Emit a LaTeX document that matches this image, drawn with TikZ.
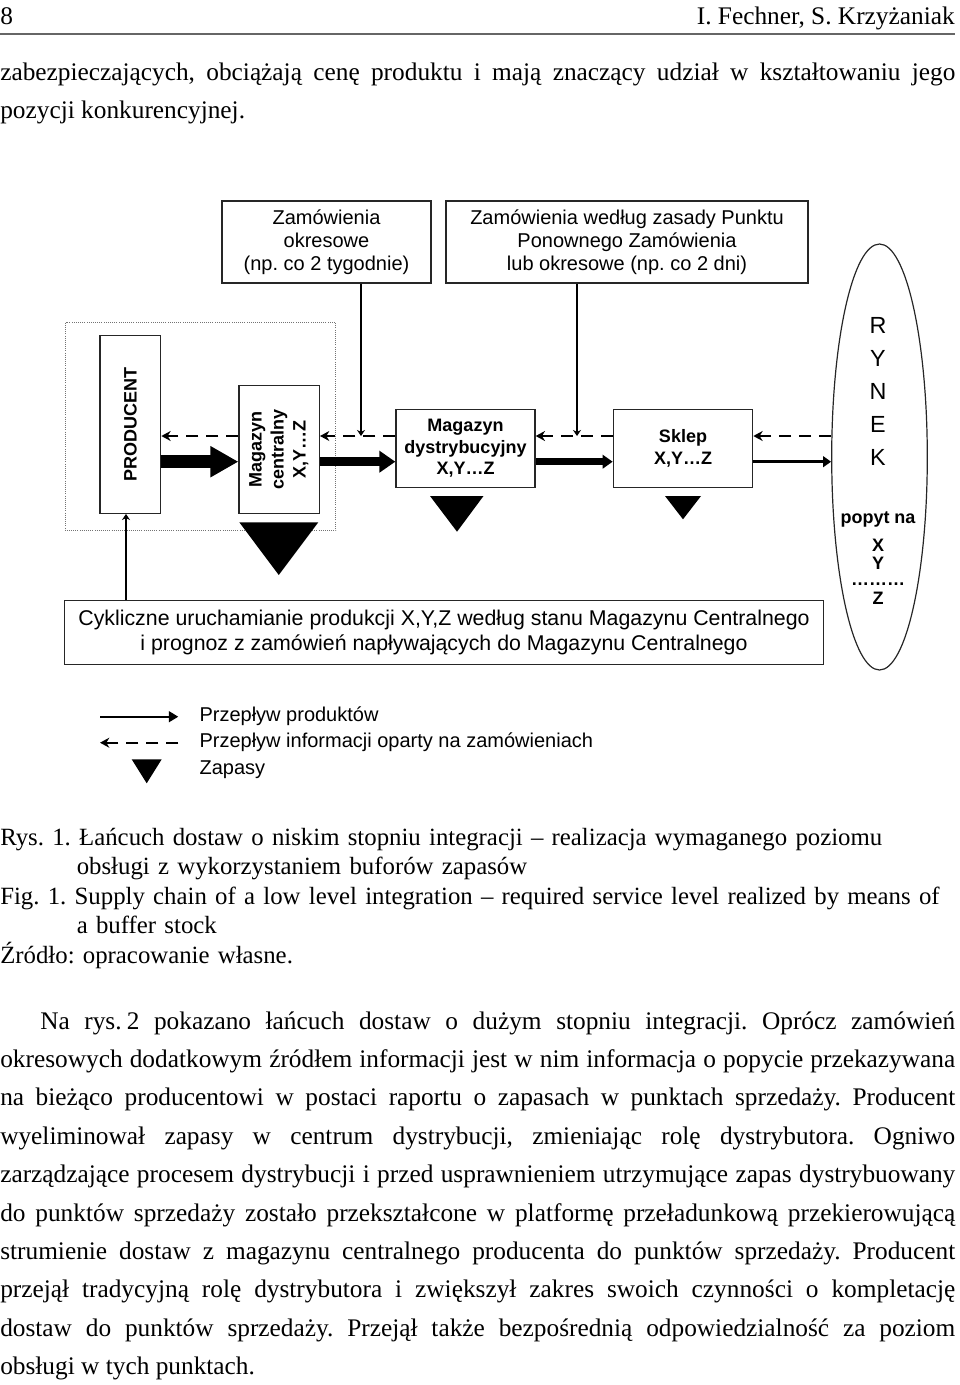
\documentclass[tikz,border=0pt]{standalone}
\usepackage{fontspec}
\setmainfont{Liberation Serif}
\setsansfont{Liberation Sans}
\usepackage{graphicx}
\usetikzlibrary{arrows.meta,shapes.geometric}
\frenchspacing

\tikzset{
  box/.style={draw=black!85, line width=1pt, inner sep=0pt, align=center,
    font=\sffamily\fontsize{15}{17.25}\selectfont},
  bbox/.style={box, font=\sffamily\bfseries\fontsize{13.5}{16.5}\selectfont},
  info/.style={draw=black, line width=1.4pt, dash pattern=on 9pt off 6pt,
    -{Stealth[length=7pt,width=7.5pt]}},
  order/.style={line width=0.8pt, -{Stealth[length=4.5pt,width=6pt]}},
  lgtxt/.style={anchor=west, inner sep=0pt, font=\sffamily\fontsize{15}{17}\selectfont},
  para/.style={inner sep=0pt, text width=716.25pt, align=justify,
    font=\fontsize{19}{28.8}\selectfont},
  captxt/.style={inner sep=0pt, text width=716.25pt, align=left,
    font=\fontsize{18.6}{22.1}\selectfont},
  mkt/.style={font=\sffamily\bfseries\fontsize{13.5}{15}\selectfont},
}

\begin{document}
\begin{tikzpicture}[x=0.75pt,y=0.75pt,yscale=-1,xscale=1]
\useasboundingbox (0,0) rectangle (960,1385);

% Page head
\node[inner sep=0pt, anchor=base west, font=\fontsize{19}{22}\selectfont] (pageNo) at (0,24) {8};
\node[inner sep=0pt, anchor=base east, font=\fontsize{19}{22}\selectfont] (authors) at (955,24) {I. Fechner, S. Krzyżaniak};
\draw[black!60, line width=1.5pt] (0,33.5) -- (955,33.5);

% Text Node
\node[para, anchor=base west] (parTop) at (0,80) {\hyphenpenalty=10000 zabezpieczających, obciążają cenę produktu i mają znaczący udział w kształtowaniu jego\linebreak pozycji konkurencyjnej.};

% Order boxes
\node[box, minimum width=156.75pt, minimum height=61.5pt] (zamOkr) at (326.5,242) {Zamówienia\\okresowe\\(np. co 2 tygodnie)};
\node[box, minimum width=271.5pt, minimum height=61.5pt] (zamPPZ) at (627,242) {Zamówienia według zasady Punktu\\Ponownego Zamówienia\\lub okresowe (np. co 2 dni)};

%Shape: Dotted group
\draw[black!55, line width=0.6pt, densely dotted] (65.7,322.7) rectangle (335.7,530.7);

% Chain
\node[bbox, minimum width=45.5pt, minimum height=133.2pt] (prod) at (130.35,424.5) {\rotatebox{90}{PRODUCENT}};
\node[bbox, minimum width=60.2pt, minimum height=96pt] (magC) at (279.2,449.3) {\rotatebox{90}{\begin{tabular}{@{}c@{}}Magazyn\\centralny\\X,Y…Z\end{tabular}}};
\node[bbox, minimum width=104.25pt, minimum height=58.8pt, font=\sffamily\bfseries\fontsize{13.5}{16}\selectfont] (magD) at (465.5,448.5) {Magazyn\\dystrybucyjny\\X,Y…Z};
\node[bbox, minimum width=104.5pt, minimum height=58.8pt, font=\sffamily\bfseries\fontsize{13.5}{16}\selectfont] (sklep) at (683,448.5) {Sklep\\X,Y…Z};
\node[draw=black!85, line width=0.9pt, ellipse, inner sep=0pt, minimum width=71.7pt, minimum height=319.5pt] (rynek) at (879.5,457) {};
\node[align=center, font=\sffamily\fontsize{17.5}{24.75}\selectfont] (rynekTxt) at (878,391.5) {R\\Y\\N\\E\\K};
\node[mkt] (popyt) at (878,519) {popyt na};
\node[mkt] (pX) at (878,545) {X};
\node[mkt] (pY) at (878,563) {Y};
\node[mkt] (pDots) at (878,584) {………};
\node[mkt] (pZ) at (878,598) {Z};

\node[box, minimum width=569.25pt, minimum height=47.7pt, font=\sffamily\fontsize{16}{18.75}\selectfont] (cykl) at (444,632.5) {Cykliczne uruchamianie produkcji X,Y,Z według stanu Magazynu Centralnego\\i prognoz z zamówień napływających do Magazynu Centralnego};

% Information flow
\coordinate (info) at (0,436);
\coordinate (flow) at (0,461.7);
\draw[info] (magC.west |- info) -- (prod.east |- info);
\draw[info] (magD.west |- info) -- (magC.east |- info);
\draw[info] (sklep.west |- info) -- (magD.east |- info);
\draw[info] (rynek.west |- info) -- (sklep.east |- info);

% Orders
\coordinate (okrIn) at (361,436);
\coordinate (ppzIn) at (577,436);
\coordinate (plan) at (126,0);
\draw[order] (zamOkr.south -| okrIn) -- (okrIn);
\draw[order] (zamPPZ.south -| ppzIn) -- (ppzIn);
\draw[order] (cykl.north -| plan) -- (prod.south -| plan);

% Product flow
\draw[line width=9.5pt, -{Triangle[length=21pt,width=22pt]}] (prod.east |- flow) -- (magC.west |- flow);
\draw[line width=7pt, -{Triangle[length=12pt,width=15.75pt]}] (magC.east |- flow) -- (magD.west |- flow);
\draw[line width=5pt, -{Triangle[length=7.5pt,width=10pt]}] (magD.east |- flow) -- (sklep.west |- flow);
\draw[line width=2.2pt, -{Triangle[length=6pt,width=8pt]}] (sklep.east |- flow) -- (rynek.west |- flow);

% Stocks
\fill (239.3,522.3) -- (318.3,522.3) -- (278.8,575) -- cycle;
\fill (430,496) -- (483.5,496) -- (457,531.7) -- cycle;
\fill (665,496) -- (701,496) -- (683,519.3) -- cycle;

% Legend
\coordinate (lgA) at (100,716.7);
\coordinate (lgB) at (178.3,716.7);
\coordinate (lgC) at (178.3,742.7);
\coordinate (lgD) at (100,742.7);
\draw[line width=1.5pt, -{Triangle[length=7pt,width=8pt]}] (lgA) -- (lgB);
\draw[info] (lgC) -- (lgD);
\fill (131.7,759.3) -- (161.7,759.3) -- (146.7,783.3) -- cycle;
\node[lgtxt] (lgProd) at (199.3,716.7) {Przepływ produktów};
\node[lgtxt] (lgInfo) at (199.3,742.7) {Przepływ informacji oparty na zamówieniach};
\node[lgtxt] (lgStock) at (199.3,770) {Zapasy};

% Captions
\node[captxt, anchor=base west] (capPL) at (0,845) {Rys. 1. Łańcuch dostaw o niskim stopniu integracji -- realizacja wymaganego poziomu\\\hspace*{57.4pt}obsługi z wykorzystaniem buforów zapasów};
\node[captxt, anchor=base west] (capEN) at (0,904) {Fig. 1. Supply chain of a low level integration -- required service level realized by means of\\\hspace*{57.4pt}a buffer stock};
\node[captxt, anchor=base west] (capSrc) at (0,963) {Źródło: opracowanie własne.};

% Text Node
\node[para, anchor=base west] (parBody) at (0,1029) {\hyphenpenalty=10000 \hspace*{30pt}Na rys.\hspace{0.2em}2 pokazano łańcuch dostaw o dużym stopniu integracji. Oprócz zamówień\linebreak
okresowych dodatkowym źródłem informacji jest w nim informacja o popycie przekazywana\linebreak
na bieżąco producentowi w postaci raportu o zapasach w punktach sprzedaży. Producent\linebreak
wyeliminował zapasy w centrum dystrybucji, zmieniając rolę dystrybutora. Ogniwo\linebreak
zarządzające procesem dystrybucji i przed usprawnieniem utrzymujące zapas dystrybuowany\linebreak
do punktów sprzedaży zostało przekształcone w platformę przeładunkową przekierowującą\linebreak
strumienie dostaw z magazynu centralnego producenta do punktów sprzedaży. Producent\linebreak
przejął tradycyjną rolę dystrybutora i zwiększył zakres swoich czynności o kompletację\linebreak
dostaw do punktów sprzedaży. Przejął także bezpośrednią odpowiedzialność za poziom\linebreak
obsługi w tych punktach.};

\end{tikzpicture}
\end{document}
